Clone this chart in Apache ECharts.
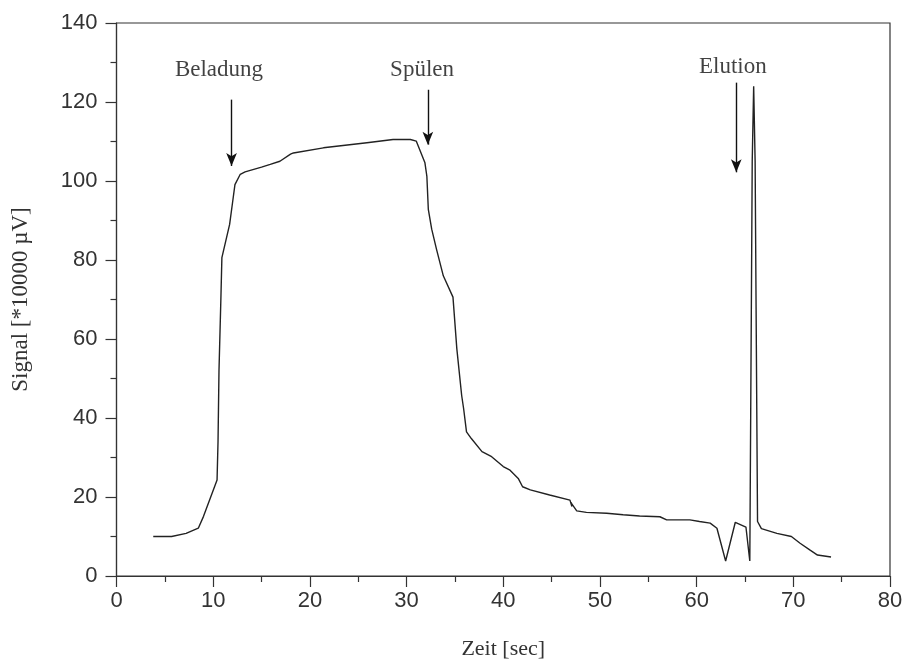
<!DOCTYPE html>
<html>
<head>
<meta charset="utf-8">
<script src="https://cdn.jsdelivr.net/npm/echarts@6/dist/echarts.min.js"></script>
<style>html,body{margin:0;padding:0;background:#fff}#c{width:906px;height:665px}</style>
</head>
<body>
<div id="c"></div>
<script>
const timeSec = [3.8,5.7,7.2,8.46,9.0,10.4,10.5,10.6,10.8,10.9,11.7,12.0,12.25,12.8,13.3,15.0,15.9,16.9,18.0,18.3,21.4,25.9,28.6,30.4,31.0,31.9,32.1,32.25,32.6,33.1,33.8,34.8,35.2,35.7,35.9,36.2,36.7,37.8,38.8,40.0,40.7,41.55,42.0,42.8,44.8,46.9,47.1,47.0,47.6,48.6,50.7,52.4,54.1,56.2,56.9,59.3,60.3,61.4,62.1,63.0,64.0,65.1,65.5,65.55,65.65,65.75,65.9,66.05,66.15,66.3,66.7,68.3,69.8,70.7,71.7,72.5,73.9];
const signal = [10,10,10.8,12.1,15.1,24.3,34,52,70.6,80.6,89,94.5,99.1,101.7,102.3,103.5,104.2,105,106.8,107.1,108.4,109.7,110.5,110.5,110.1,104.6,101.2,92.8,87.8,82.7,76,70.6,57.5,45.7,42.4,36.5,34.8,31.5,30.2,27.7,26.8,24.7,22.6,21.8,20.5,19.2,17.6,18.6,16.5,16.1,15.9,15.5,15.2,15.0,14.2,14.2,13.8,13.4,12.1,3.8,13.6,12.4,3.8,24,64,105,124,105,68,13.8,12,10.8,10,8.3,6.6,5.3,4.8];

const annotationText = ['Beladung','Spülen','Elution'];
const annotationX = [10.6, 31.6, 63.75];
const annotationY = [128.2, 128.2, 128.9];
const arrowX = [11.9, 32.2, 64.1];
const arrowFrom = [120.6, 123.1, 124.9];
const arrowTo = [103.8, 109.2, 102.2];

const xTicks = {min: 0, max: 80, interval: 10};
const yTicks = {min: 0, max: 140, interval: 20};

const serif = '"Liberation Serif", "Times New Roman", serif';
const sans = '"Liberation Sans", Arial, sans-serif';
const ink = '#333';

const chart = echarts.init(document.getElementById('c'));
chart.setOption({
  animation: false,
  grid: {left: 116.5, right: 16, top: 23, bottom: 87, show: true, borderColor: ink, borderWidth: 1.2, backgroundColor: 'transparent'},
  xAxis: {
    type: 'value', min: xTicks.min, max: xTicks.max, interval: xTicks.interval,
    name: 'Zeit [sec]', nameLocation: 'middle', nameGap: 62,
    nameTextStyle: {fontFamily: serif, fontSize: 22, color: ink},
    axisLine: {show: true, onZero: false, lineStyle: {color: ink, width: 1.2}},
    axisTick: {show: true, inside: false, length: 11, lineStyle: {color: ink, width: 1.2}},
    minorTick: {show: true, splitNumber: 2, length: 6, lineStyle: {color: ink, width: 1.2}},
    splitLine: {show: false},
    axisLabel: {fontFamily: sans, fontSize: 22, color: ink, margin: 14}
  },
  yAxis: {
    type: 'value', min: yTicks.min, max: yTicks.max, interval: yTicks.interval,
    name: 'Signal [*10000 µV]', nameLocation: 'middle', nameGap: 84, nameRotate: 90,
    nameTextStyle: {fontFamily: serif, fontSize: 23, color: ink},
    axisLine: {show: true, onZero: false, lineStyle: {color: ink, width: 1.2}},
    axisTick: {show: true, inside: false, length: 11, lineStyle: {color: ink, width: 1.2}},
    minorTick: {show: true, splitNumber: 2, length: 6, lineStyle: {color: ink, width: 1.2}},
    splitLine: {show: false},
    axisLabel: {fontFamily: sans, fontSize: 22, color: ink, margin: 19}
  },
  series: [
    {
      type: 'line',
      data: timeSec.map((t, i) => [t, signal[i]]),
      showSymbol: false, symbol: 'none', smooth: false,
      lineStyle: {color: '#222', width: 1.4},
      markLine: {
        silent: true, symbol: ['none', 'arrow'], symbolSize: [8, 13],
        label: {show: false},
        lineStyle: {color: '#111', width: 1.4, type: 'solid'},
        data: arrowX.map((x, i) => [{coord: [x, arrowFrom[i]]}, {coord: [x, arrowTo[i]]}])
      }
    },
    {
      type: 'scatter', symbolSize: 0, silent: true,
      data: annotationX.map((x, i) => ({value: [x, annotationY[i]], name: annotationText[i]})),
      label: {show: true, position: 'inside', formatter: p => p.name, fontFamily: serif, fontSize: 23, color: '#111'}
    }
  ]
});
</script>
</body>
</html>
